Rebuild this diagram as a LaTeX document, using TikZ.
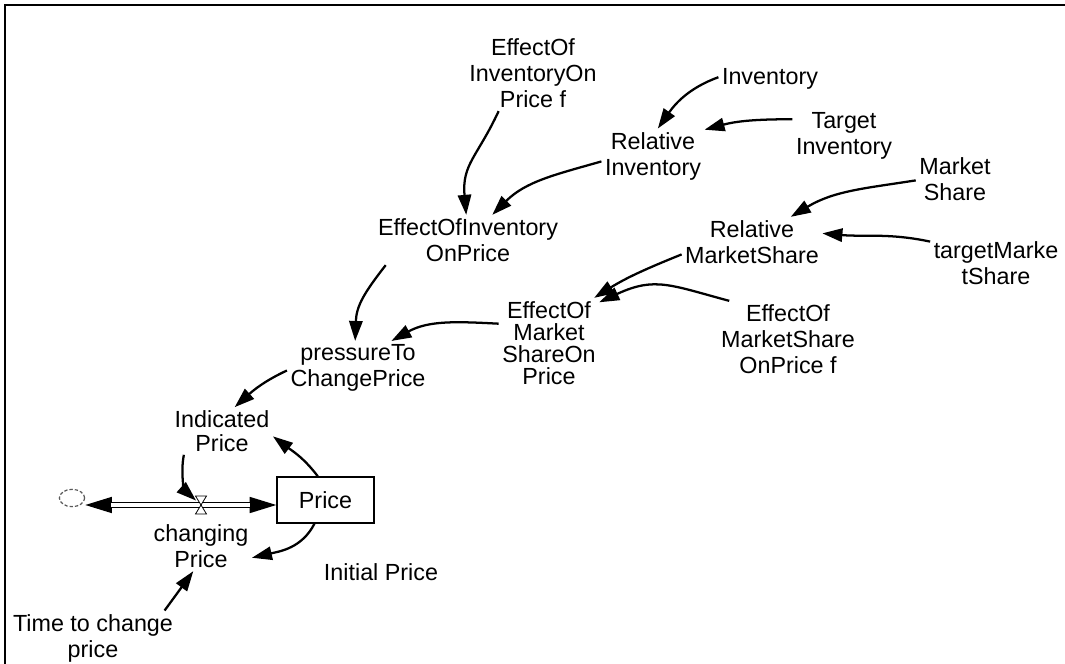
\documentclass[tikz,border=0pt]{standalone}
\usepackage{fontspec}
\setmainfont{Liberation Sans}
\usetikzlibrary{arrows.meta,shapes.geometric}
\newcommand\dgfont{\fontsize{17.5pt}{19.5pt}\selectfont}
\newcommand\dgfonttight{\fontsize{17.5pt}{16.5pt}\selectfont}
\newcommand\dgfontmid{\fontsize{17.5pt}{17.5pt}\selectfont}
\tikzset{
  txt/.style={align=center, inner sep=2.5pt, font=\dgfont},
  tighttxt/.style={txt, font=\dgfonttight},
  midtxt/.style={txt, font=\dgfontmid},
  stock/.style={draw, line width=1pt, minimum width=72.75pt, minimum height=34.5pt, inner sep=0pt, font=\dgfont},
  cloudshape/.style={ellipse, draw=black!65, dashed, dash pattern=on 2.5pt off 1.5pt, line width=0.9pt, minimum width=19pt, minimum height=13pt, inner sep=0pt},
  link/.style={line width=1.7pt, -{Triangle[length=15pt,width=10pt]}},
  pipehead/.style={line width=1.2pt, -{Triangle[length=20pt,width=12pt]}},
  pipe/.style={line width=1.2pt, double=white, double distance=2.5pt},
  frame/.style={line width=1.6pt}
}
\begin{document}
\begin{tikzpicture}[x=0.75pt,y=0.75pt]
\useasboundingbox (0,0) rectangle (1065,-664);
\draw[frame] (5,-664) -- (5,-5) -- (1065,-5);

\node[txt] (effinvf) at (533,-73) {EffectOf\\InventoryOn\\Price f};
\node[txt] (inv) at (770,-79) {Inventory};
\node[txt] (relinv) at (653,-156) {Relative\\Inventory};
\node[txt] (tinv) at (844,-136) {Target\\Inventory};
\node[txt] (mshare) at (955,-179) {Market\\Share};
\node[txt] (relms) at (752,-242) {Relative\\MarketShare};
\node[txt] (tms) at (996,-263) {targetMarke\\tShare};
\node[txt] (effinv) at (468,-240) {EffectOfInventory\\OnPrice};
\node[tighttxt] (effms) at (549,-343) {EffectOf\\Market\\ShareOn\\Price};
\node[txt] (effmsf) at (788,-339) {EffectOf\\MarketShare\\OnPrice f};
\node[txt] (pressure) at (358,-368) {pressureTo\\ChangePrice};
\node[midtxt] (indicated) at (222,-431) {Indicated\\Price};
\node[stock] (price) at (325.5,-500) {Price};
\coordinate (valve) at (201,-505);
\node[cloudshape] (cloud) at (72,-498) {};
\node[txt] (changing) at (201,-546) {changing\\Price};
\node[txt] (initial) at (381,-572) {Initial Price};
\node[txt] (time) at (93,-638) {Time to change\\price};

% flow pipe
\draw[pipehead] (valve) -- (cloud.east |- valve);
\draw[pipehead] (valve) -- (price.west |- valve);
\draw[pipe, shorten <=19.5pt, shorten >=19.5pt] (cloud.east |- valve) -- (price.west |- valve);
\draw[line width=0.6pt, fill=white] (valve) -- ++(-5.5,9) -- ++(11,0) -- cycle;
\draw[line width=0.6pt, fill=white] (valve) -- ++(-5.5,-9) -- ++(11,0) -- cycle;

% links
\draw[link] (effinvf.-132) to[out=-115,in=95,looseness=1.2] (effinv.94);
\draw[link] (inv.178) to[out=200,in=55] (relinv.80);
\draw[link] (tinv.162) to[out=180,in=15] (relinv.27);
\draw[link] (relinv.186) to[out=196,in=45] (effinv.46);
\draw[link] (mshare.182) to[out=189,in=31] (relms.33);
\draw[link] (tms.162) to[out=168,in=-5] (relms.7);
\draw[link] (relms.190) to[out=202,in=32] (effms.45);
\draw[link] (effmsf.147) to[out=165,in=25,looseness=1.2] (effms.39);
\draw[link] (effinv.197) to[out=232,in=88,looseness=1.1] (pressure.96);
\draw[link] (effms.159) to[out=177,in=29] (pressure.39);
\draw[link] (pressure.182) to[out=205,in=42] (indicated.62);
\draw[link] (price.108) to[out=127,in=-37] (indicated.-6);
\draw[link, shorten >=5pt] (indicated.212) to[out=259,in=138] (valve);
\draw[link] (price.245) to[out=243,in=13] (changing.-13);
\draw[link] (time.21) -- (changing.253);
\end{tikzpicture}
\end{document}
